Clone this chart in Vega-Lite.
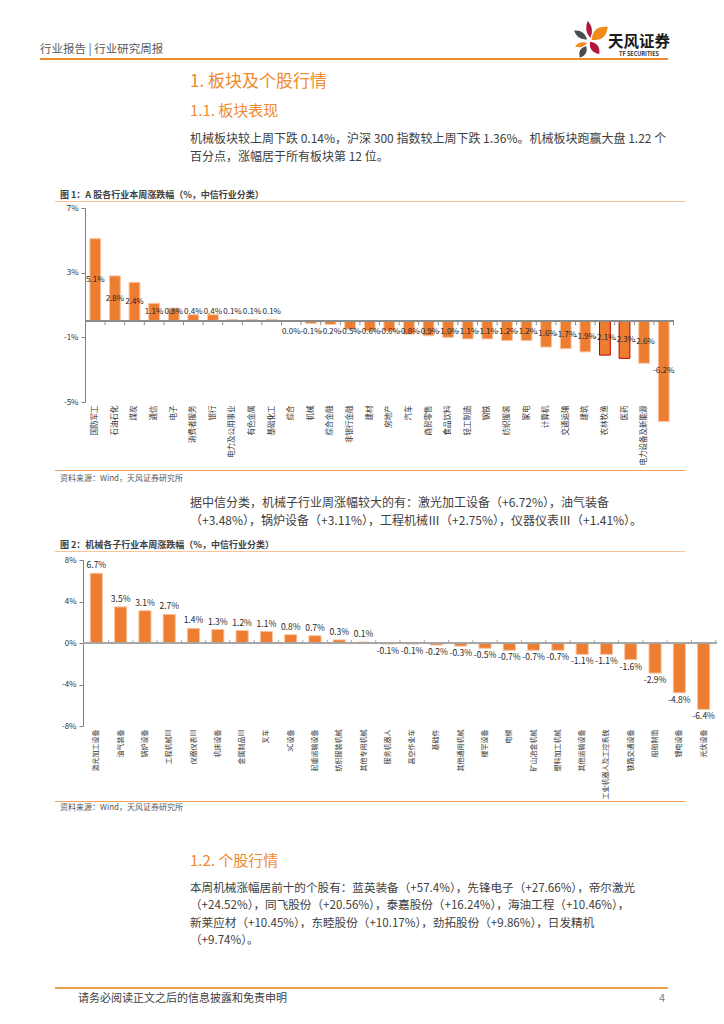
{
"$schema": "https://vega.github.io/schema/vega-lite/v6.json",
"background": "white",
"padding": 0,
"autosize": {"type": "pad"},
"spacing": 0,
"config": {
  "font": "Noto Sans CJK SC",
  "view": {"stroke": null},
  "locale": {"number": {"decimal": ".", "thousands": ",", "grouping": [3], "currency": ["", ""], "minus": "-"}},
  "axis": {"labelFont": "Noto Sans CJK SC", "grid": false},
  "concat": {"spacing": 0}
},
"datasets": {
  "c1": [
    {"industry": "国防军工", "chg": 0.051},
    {"industry": "石油石化", "chg": 0.028},
    {"industry": "煤炭", "chg": 0.024},
    {"industry": "通信", "chg": 0.011},
    {"industry": "电子", "chg": 0.008},
    {"industry": "消费者服务", "chg": 0.004},
    {"industry": "银行", "chg": 0.004},
    {"industry": "电力及公用事业", "chg": 0.001},
    {"industry": "有色金属", "chg": 0.001},
    {"industry": "基础化工", "chg": 0.001},
    {"industry": "综合", "chg": 0.0},
    {"industry": "机械", "chg": -0.0014},
    {"industry": "综合金融", "chg": -0.002},
    {"industry": "非银行金融", "chg": -0.005},
    {"industry": "建材", "chg": -0.006},
    {"industry": "房地产", "chg": -0.006},
    {"industry": "汽车", "chg": -0.008},
    {"industry": "商贸零售", "chg": -0.009},
    {"industry": "食品饮料", "chg": -0.010},
    {"industry": "轻工制造", "chg": -0.011},
    {"industry": "钢铁", "chg": -0.011},
    {"industry": "纺织服装", "chg": -0.012},
    {"industry": "家电", "chg": -0.012},
    {"industry": "计算机", "chg": -0.016},
    {"industry": "交通运输", "chg": -0.017},
    {"industry": "建筑", "chg": -0.019},
    {"industry": "农林牧渔", "chg": -0.021},
    {"industry": "医药", "chg": -0.023},
    {"industry": "电力设备及新能源", "chg": -0.026},
    {"industry": "传媒", "chg": -0.062}
  ],
  "c2": [
    {"sub": "激光加工设备", "chg": 0.0672},
    {"sub": "油气装备", "chg": 0.0348},
    {"sub": "锅炉设备", "chg": 0.0311},
    {"sub": "工程机械Ⅲ", "chg": 0.02748},
    {"sub": "仪器仪表Ⅲ", "chg": 0.0141},
    {"sub": "机床设备", "chg": 0.013},
    {"sub": "金属制品Ⅲ", "chg": 0.012},
    {"sub": "叉车", "chg": 0.011},
    {"sub": "3C设备", "chg": 0.008},
    {"sub": "起重运输设备", "chg": 0.007},
    {"sub": "纺织服装机械", "chg": 0.003},
    {"sub": "其他专用机械", "chg": 0.001},
    {"sub": "服务机器人", "chg": -0.001},
    {"sub": "高空作业车", "chg": -0.001},
    {"sub": "基础件", "chg": -0.002},
    {"sub": "其他通用机械", "chg": -0.003},
    {"sub": "楼宇设备", "chg": -0.005},
    {"sub": "电梯", "chg": -0.007},
    {"sub": "矿山冶金机械", "chg": -0.007},
    {"sub": "塑料加工机械", "chg": -0.007},
    {"sub": "其他运输设备", "chg": -0.011},
    {"sub": "工业机器人及工控系统", "chg": -0.011},
    {"sub": "铁路交通设备", "chg": -0.016},
    {"sub": "船舶制造", "chg": -0.029},
    {"sub": "锂电设备", "chg": -0.048},
    {"sub": "光伏设备", "chg": -0.064}
  ]
},
"vconcat": [
  {"width": 724, "height": 20, "data": {"values": []}, "mark": "point"},
  {"hconcat": [
    {"width": 40, "height": 38, "data": {"values": []}, "mark": "point"},
    {"width": 530, "height": 38, "data": {"values": [{"t": "行业报告 | 行业研究周报"}]},
     "mark": {"type": "text", "align": "left", "baseline": "middle", "fontSize": 11.5, "color": "#595959", "dy": 11},
     "encoding": {"x": {"datum": 0, "type": "quantitative", "scale": {"domain": [0, 1]}, "axis": null}, "text": {"field": "t"}}},
    {"width": 40, "height": 38, "data": {"values": [{"brand": "天风证券"}]},
     "layer": [
       {"mark": {"type": "point", "filled": true, "opacity": 1, "size": 1400, "color": "#B3163C", "strokeWidth": 0,
         "shape": "M -0.12 -0.98 Q -0.35 -0.47 0.02 -0.05 Q 0.25 -0.56 -0.12 -0.98 Z M 0 0.15 Q -0.07 0.72 0.5 0.8 Q 0.57 0.23 0 0.15 Z"}, "encoding": {}},
       {"mark": {"type": "point", "filled": true, "opacity": 1, "size": 1400, "color": "#F08A1C", "strokeWidth": 0,
         "shape": "M 0.08 0.05 Q 0.87 0.14 0.95 -0.65 Q 0.16 -0.74 0.08 0.05 Z M -0.8 0.4 Q -0.41 0.54 -0.15 0.22 Q -0.54 0.08 -0.8 0.4 Z"}, "encoding": {}},
       {"mark": {"type": "point", "filled": true, "opacity": 1, "size": 1400, "color": "#4D4D4D", "strokeWidth": 0,
         "shape": "M -0.85 -0.45 Q -0.69 0.07 -0.15 0.02 Q -0.31 -0.5 -0.85 -0.45 Z M -0.2 0.38 Q -0.69 0.51 -0.55 1 Q -0.06 0.87 -0.2 0.38 Z"}, "encoding": {}}
     ]},
    {"width": 58, "height": 38, "data": {"values": [{"brand": "天风证券", "en": "TF SECURITIES"}]},
     "layer": [
       {"mark": {"type": "text", "align": "center", "baseline": "middle", "fontSize": 15.5, "fontWeight": "bold", "color": "#1A1A1A", "dy": 3}, "encoding": {"text": {"field": "brand"}}},
       {"mark": {"type": "text", "align": "center", "baseline": "middle", "fontSize": 5.5, "fontWeight": "bold", "color": "#333333", "dy": 15}, "encoding": {"text": {"field": "en"}}}
     ]}
  ], "spacing": 0, "bounds": "flush"},
  {"hconcat": [
    {"width": 40, "height": 2, "data": {"values": []}, "mark": "point"},
    {"width": 628, "height": 2, "data": {"values": [{"k": "rule"}]}, "mark": {"type": "rule", "color": "#F08A2E", "strokeWidth": 2},
     "encoding": {"y": {"datum": 0.5, "type": "quantitative", "scale": {"domain": [0, 1]}, "axis": null}}}
  ], "spacing": 0, "bounds": "flush"},
  {"width": 1, "height": 12, "data": {"values": []}, "mark": "point"},
  {"hconcat": [
    {"width": 190, "height": 20, "data": {"values": []}, "mark": "point"},
    {"width": 534, "height": 20, "data": {"values": [{"t": "1. 板块及个股行情"}]},
     "mark": {"type": "text", "align": "left", "baseline": "middle", "fontSize": 17, "color": "#F08A2E"},
     "encoding": {"x": {"datum": 0, "type": "quantitative", "scale": {"domain": [0, 1]}, "axis": null}, "text": {"field": "t"}}}
  ], "spacing": 0, "bounds": "flush"},
  {"width": 1, "height": 9, "data": {"values": []}, "mark": "point"},
  {"hconcat": [
    {"width": 190, "height": 20, "data": {"values": []}, "mark": "point"},
    {"width": 534, "height": 20, "data": {"values": [{"t": "1.1. 板块表现"}]},
     "mark": {"type": "text", "align": "left", "baseline": "middle", "fontSize": 15, "color": "#F08A2E"},
     "encoding": {"x": {"datum": 0, "type": "quantitative", "scale": {"domain": [0, 1]}, "axis": null}, "text": {"field": "t"}}}
  ], "spacing": 0, "bounds": "flush"},
  {"width": 1, "height": 9, "data": {"values": []}, "mark": "point"},
  {"hconcat": [
    {"width": 190, "height": 36, "data": {"values": []}, "mark": "point"},
    {"width": 534, "height": 36, "data": {"values": [
      {"n": 1, "t": "机械板块较上周下跌 0.14%，沪深 300 指数较上周下跌 1.36%。机械板块跑赢大盘 1.22 个"},
      {"n": 2, "t": "百分点，涨幅居于所有板块第 12 位。"}]},
     "mark": {"type": "text", "align": "left", "baseline": "middle", "fontSize": 12, "color": "#404040"},
     "encoding": {"x": {"datum": 0, "type": "quantitative", "scale": {"domain": [0, 1]}, "axis": null},
                  "y": {"field": "n", "type": "ordinal", "scale": {"type": "point", "padding": 0.5}, "axis": null},
                  "text": {"field": "t"}}}
  ], "spacing": 0, "bounds": "flush"},
  {"width": 1, "height": 23, "data": {"values": []}, "mark": "point"},
  {"hconcat": [
    {"width": 60, "height": 12, "data": {"values": []}, "mark": "point"},
    {"width": 400, "height": 12, "data": {"values": [{"t": "图 1：A 股各行业本周涨跌幅（%，中信行业分类）"}]},
     "mark": {"type": "text", "align": "left", "baseline": "middle", "fontSize": 9, "fontWeight": "bold", "color": "#404040"},
     "encoding": {"x": {"datum": 0, "type": "quantitative", "scale": {"domain": [0, 1]}, "axis": null}, "text": {"field": "t"}}}
  ], "spacing": 0, "bounds": "flush"},
  {"hconcat": [
    {"width": 55, "height": 1, "data": {"values": []}, "mark": "point"},
    {"width": 630, "height": 1, "data": {"values": [{"k": "rule"}]}, "mark": {"type": "rule", "color": "#F9C49A", "strokeWidth": 1},
     "encoding": {"y": {"datum": 0.5, "type": "quantitative", "scale": {"domain": [0, 1]}, "axis": null}}}
  ], "spacing": 0, "bounds": "flush"},
  {"width": 1, "height": 2, "data": {"values": []}, "mark": "point"},
  {"hconcat": [
    {"width": 85, "height": 194, "data": {"values": []}, "mark": "point"},
    {"width": 589, "height": 194,
     "data": {"name": "c1"},
     "resolve": {"scale": {"y": "independent"}},
     "layer": [
       {"layer": [
         {"mark": {"type": "bar", "color": "#ED7D31", "strokeWidth": 1},
          "encoding": {
            "x": {"field": "industry", "type": "nominal", "sort": null, "scale": {"paddingInner": 0.45, "paddingOuter": 0.25},
                  "axis": {"title": null, "labelAngle": -90, "labelFontSize": 7.5, "labelColor": "#333333", "domain": false, "ticks": false, "labelPadding": 3}},
            "y": {"field": "chg", "type": "quantitative", "scale": {"domain": [-0.05, 0.07], "nice": false},
                  "axis": {"title": null, "values": [-0.05, -0.03, -0.01, 0.01, 0.03, 0.05, 0.07], "format": ".0%", "labelFontSize": 8, "labelColor": "#333333", "domainColor": "#7F7F7F", "tickColor": "#7F7F7F", "tickSize": 4, "labelPadding": 3}},
            "stroke": {"condition": {"test": "datum.industry === '农林牧渔' || datum.industry === '医药'", "value": "#C00000"}, "value": "#F7C3A0"}
          }},
         {"mark": {"type": "rule", "color": "#8C8C8C"}, "encoding": {"y": {"datum": 0, "type": "quantitative"}}},
         {"mark": {"type": "rule", "color": "#8C8C8C"},
          "encoding": {"x": {"field": "industry", "type": "nominal", "sort": null, "bandPosition": 1.41},
                       "y": {"datum": 0, "type": "quantitative"}, "y2": {"datum": -0.0025}}}
       ]},
       {"layer": [
         {"transform": [{"filter": "datum.chg >= 0.011 || datum.chg <= -0.014"}],
          "mark": {"type": "text", "fontSize": 8, "color": "#262626", "baseline": "middle"},
          "encoding": {"x": {"field": "industry", "type": "nominal", "sort": null},
                       "y": {"field": "chg", "type": "quantitative", "scale": {"domain": [-0.1, 0.14], "nice": false}, "axis": null},
                       "text": {"field": "chg", "type": "quantitative", "format": ".1%"}}},
         {"transform": [{"filter": "datum.chg > 0 && datum.chg < 0.011"}],
          "mark": {"type": "text", "fontSize": 8, "color": "#262626", "baseline": "middle"},
          "encoding": {"x": {"field": "industry", "type": "nominal", "sort": null},
                       "y": {"datum": 0.011, "type": "quantitative"},
                       "text": {"field": "chg", "type": "quantitative", "format": ".1%"}}},
         {"transform": [{"filter": "datum.chg <= 0 && datum.chg > -0.014"}],
          "mark": {"type": "text", "fontSize": 8, "color": "#262626", "baseline": "middle"},
          "encoding": {"x": {"field": "industry", "type": "nominal", "sort": null},
                       "y": {"datum": -0.014, "type": "quantitative"},
                       "text": {"field": "chg", "type": "quantitative", "format": ".1%"}}}
       ]}
     ]}
  ], "spacing": 0, "bounds": "flush"},
  {"width": 1, "height": 5, "data": {"values": []}, "mark": "point"},
  {"hconcat": [
    {"width": 55, "height": 1, "data": {"values": []}, "mark": "point"},
    {"width": 630, "height": 1, "data": {"values": [{"k": "rule"}]}, "mark": {"type": "rule", "color": "#F4A15D", "strokeWidth": 1},
     "encoding": {"y": {"datum": 0.5, "type": "quantitative", "scale": {"domain": [0, 1]}, "axis": null}}}
  ], "spacing": 0, "bounds": "flush"},
  {"hconcat": [
    {"width": 60, "height": 16, "data": {"values": []}, "mark": "point"},
    {"width": 300, "height": 16, "data": {"values": [{"t": "资料来源：Wind，天风证券研究所"}]},
     "mark": {"type": "text", "align": "left", "baseline": "middle", "fontSize": 8, "color": "#595959"},
     "encoding": {"x": {"datum": 0, "type": "quantitative", "scale": {"domain": [0, 1]}, "axis": null}, "text": {"field": "t"}}}
  ], "spacing": 0, "bounds": "flush"},
  {"width": 1, "height": 7, "data": {"values": []}, "mark": "point"},
  {"hconcat": [
    {"width": 190, "height": 36, "data": {"values": []}, "mark": "point"},
    {"width": 534, "height": 36, "data": {"values": [
      {"n": 1, "t": "据中信分类，机械子行业周涨幅较大的有：激光加工设备（+6.72%），油气装备"},
      {"n": 2, "t": "（+3.48%），锅炉设备（+3.11%），工程机械Ⅲ（+2.75%），仪器仪表Ⅲ（+1.41%）。"}]},
     "mark": {"type": "text", "align": "left", "baseline": "middle", "fontSize": 12, "color": "#404040"},
     "encoding": {"x": {"datum": 0, "type": "quantitative", "scale": {"domain": [0, 1]}, "axis": null},
                  "y": {"field": "n", "type": "ordinal", "scale": {"type": "point", "padding": 0.5}, "axis": null},
                  "text": {"field": "t"}}}
  ], "spacing": 0, "bounds": "flush"},
  {"width": 1, "height": 9, "data": {"values": []}, "mark": "point"},
  {"hconcat": [
    {"width": 60, "height": 12, "data": {"values": []}, "mark": "point"},
    {"width": 400, "height": 12, "data": {"values": [{"t": "图 2：机械各子行业本周涨跌幅（%，中信行业分类）"}]},
     "mark": {"type": "text", "align": "left", "baseline": "middle", "fontSize": 9, "fontWeight": "bold", "color": "#404040"},
     "encoding": {"x": {"datum": 0, "type": "quantitative", "scale": {"domain": [0, 1]}, "axis": null}, "text": {"field": "t"}}}
  ], "spacing": 0, "bounds": "flush"},
  {"hconcat": [
    {"width": 55, "height": 1, "data": {"values": []}, "mark": "point"},
    {"width": 630, "height": 1, "data": {"values": [{"k": "rule"}]}, "mark": {"type": "rule", "color": "#F9C49A", "strokeWidth": 1},
     "encoding": {"y": {"datum": 0.5, "type": "quantitative", "scale": {"domain": [0, 1]}, "axis": null}}}
  ], "spacing": 0, "bounds": "flush"},
  {"width": 1, "height": 4, "data": {"values": []}, "mark": "point"},
  {"hconcat": [
    {"width": 83, "height": 166, "data": {"values": []}, "mark": "point"},
    {"width": 634, "height": 166,
     "data": {"name": "c2"},
     "layer": [
       {"mark": {"type": "bar", "color": "#ED7D31", "stroke": "#F7C3A0", "strokeWidth": 1},
        "encoding": {
          "x": {"field": "sub", "type": "nominal", "sort": null, "scale": {"paddingInner": 0.5, "paddingOuter": 0.3},
                "axis": {"title": null, "labelAngle": -90, "labelFontSize": 7, "labelColor": "#333333", "domain": false, "ticks": false, "labelPadding": 3}},
          "y": {"field": "chg", "type": "quantitative", "scale": {"domain": [-0.08, 0.08], "nice": false},
                "axis": {"title": null, "values": [-0.08, -0.06, -0.04, -0.02, 0, 0.02, 0.04, 0.06, 0.08], "format": ".0%", "labelFontSize": 8, "labelColor": "#333333", "domainColor": "#7F7F7F", "tickColor": "#7F7F7F", "tickSize": 4, "labelPadding": 3}}
        }},
       {"mark": {"type": "rule", "color": "#A6A6A6"}, "encoding": {"y": {"datum": 0, "type": "quantitative"}}},
       {"mark": {"type": "rule", "color": "#A6A6A6"},
        "encoding": {"x": {"field": "sub", "type": "nominal", "sort": null, "bandPosition": 1.5},
                     "y": {"datum": 0, "type": "quantitative"}, "y2": {"datum": 0.003}}},
       {"transform": [{"filter": "datum.chg >= 0"}],
        "mark": {"type": "text", "fontSize": 8.5, "color": "#262626", "baseline": "bottom", "dy": -3},
        "encoding": {"x": {"field": "sub", "type": "nominal", "sort": null},
                     "y": {"field": "chg", "type": "quantitative"},
                     "text": {"field": "chg", "type": "quantitative", "format": ".1%"}}},
       {"transform": [{"filter": "datum.chg < 0"}],
        "mark": {"type": "text", "fontSize": 8.5, "color": "#262626", "baseline": "top", "dy": 3},
        "encoding": {"x": {"field": "sub", "type": "nominal", "sort": null},
                     "y": {"field": "chg", "type": "quantitative"},
                     "text": {"field": "chg", "type": "quantitative", "format": ".1%"}}}
     ]}
  ], "spacing": 0, "bounds": "flush"},
  {"width": 1, "height": 2, "data": {"values": []}, "mark": "point"},
  {"hconcat": [
    {"width": 55, "height": 1, "data": {"values": []}, "mark": "point"},
    {"width": 630, "height": 1, "data": {"values": [{"k": "rule"}]}, "mark": {"type": "rule", "color": "#F4A15D", "strokeWidth": 1},
     "encoding": {"y": {"datum": 0.5, "type": "quantitative", "scale": {"domain": [0, 1]}, "axis": null}}}
  ], "spacing": 0, "bounds": "flush"},
  {"hconcat": [
    {"width": 60, "height": 12, "data": {"values": []}, "mark": "point"},
    {"width": 300, "height": 12, "data": {"values": [{"t": "资料来源：Wind，天风证券研究所"}]},
     "mark": {"type": "text", "align": "left", "baseline": "middle", "fontSize": 8, "color": "#595959"},
     "encoding": {"x": {"datum": 0, "type": "quantitative", "scale": {"domain": [0, 1]}, "axis": null}, "text": {"field": "t"}}}
  ], "spacing": 0, "bounds": "flush"},
  {"width": 1, "height": 37, "data": {"values": []}, "mark": "point"},
  {"hconcat": [
    {"width": 190, "height": 20, "data": {"values": []}, "mark": "point"},
    {"width": 534, "height": 20, "data": {"values": [{"t": "1.2. 个股行情"}]},
     "mark": {"type": "text", "align": "left", "baseline": "middle", "fontSize": 15, "color": "#F08A2E"},
     "encoding": {"x": {"datum": 0, "type": "quantitative", "scale": {"domain": [0, 1]}, "axis": null}, "text": {"field": "t"}}}
  ], "spacing": 0, "bounds": "flush"},
  {"width": 1, "height": 9, "data": {"values": []}, "mark": "point"},
  {"hconcat": [
    {"width": 190, "height": 70, "data": {"values": []}, "mark": "point"},
    {"width": 534, "height": 70, "data": {"values": [
      {"n": 1, "t": "本周机械涨幅居前十的个股有：蓝英装备（+57.4%），先锋电子（+27.66%），帝尔激光"},
      {"n": 2, "t": "（+24.52%），同飞股份（+20.56%），泰嘉股份（+16.24%），海油工程（+10.46%），"},
      {"n": 3, "t": "新莱应材（+10.45%），东睦股份（+10.17%），劲拓股份（+9.86%），日发精机"},
      {"n": 4, "t": "（+9.74%）。"}]},
     "mark": {"type": "text", "align": "left", "baseline": "middle", "fontSize": 11.6, "color": "#404040"},
     "encoding": {"x": {"datum": 0, "type": "quantitative", "scale": {"domain": [0, 1]}, "axis": null},
                  "y": {"field": "n", "type": "ordinal", "scale": {"type": "point", "padding": 0.5}, "axis": null},
                  "text": {"field": "t"}}}
  ], "spacing": 0, "bounds": "flush"},
  {"width": 1, "height": 37, "data": {"values": []}, "mark": "point"},
  {"hconcat": [
    {"width": 55, "height": 2, "data": {"values": []}, "mark": "point"},
    {"width": 613, "height": 2, "data": {"values": [{"k": "rule"}]}, "mark": {"type": "rule", "color": "#F0A04B", "strokeWidth": 2},
     "encoding": {"y": {"datum": 0.5, "type": "quantitative", "scale": {"domain": [0, 1]}, "axis": null}}}
  ], "spacing": 0, "bounds": "flush"},
  {"hconcat": [
    {"width": 78, "height": 20, "data": {"values": []}, "mark": "point"},
    {"width": 574, "height": 20, "data": {"values": [{"t": "请务必阅读正文之后的信息披露和免责申明"}]},
     "mark": {"type": "text", "align": "left", "baseline": "middle", "fontSize": 11, "color": "#404040"},
     "encoding": {"x": {"datum": 0, "type": "quantitative", "scale": {"domain": [0, 1]}, "axis": null}, "text": {"field": "t"}}},
    {"width": 20, "height": 20, "data": {"values": [{"t": "4"}]},
     "mark": {"type": "text", "align": "center", "baseline": "middle", "fontSize": 11, "color": "#808080"},
     "encoding": {"text": {"field": "t"}}}
  ], "spacing": 0, "bounds": "flush"},
  {"width": 1, "height": 14, "data": {"values": []}, "mark": "point"}
]
}
